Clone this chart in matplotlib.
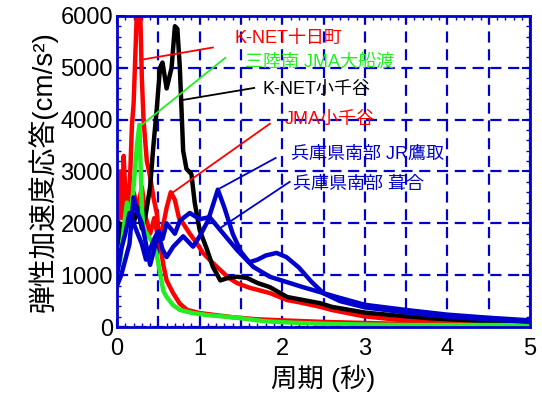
import matplotlib
matplotlib.use("Agg")
import matplotlib.pyplot as plt
from matplotlib.ticker import MultipleLocator

plt.rcParams['font.family'] = ['Liberation Sans', 'Noto Sans CJK JP']

# ---------------------------------------------------------------
# Data (period in s, response in cm/s^2)
# ---------------------------------------------------------------
t_tokamachi = [0, 0.03, 0.06, 0.08, 0.1, 0.13, 0.16, 0.18, 0.2, 0.22, 0.24, 0.26, 0.28, 0.3, 0.32,
               0.36, 0.4, 0.44, 0.48, 0.52, 0.56, 0.6, 0.68, 0.76, 0.85, 1.0, 1.2, 1.4, 1.7, 2.0,
               2.5, 3.0, 3.5, 4.0, 4.5, 5.0]
v_tokamachi = [1600, 2800, 2100, 3300, 2600, 2200, 3000, 3900, 4300, 5200, 6100, 6100, 6100, 4800, 4000,
               3200, 2900, 2500, 2200, 1600, 1200, 900, 650, 450, 330, 270, 230, 190, 150, 130,
               100, 80, 60, 50, 40, 30]

t_jma_ojiya = [0, 0.04, 0.08, 0.12, 0.16, 0.2, 0.25, 0.3, 0.35, 0.4, 0.45, 0.5, 0.55, 0.6, 0.65, 0.7,
               0.75, 0.8, 0.88, 0.95, 1.04, 1.15, 1.25, 1.35, 1.45, 1.6, 1.85, 2.06, 2.2, 2.46, 2.6,
               2.98, 3.43, 4.2, 5.0]
v_jma_ojiya = [2100, 3000, 2400, 2700, 2200, 2600, 2300, 2700, 2100, 1800, 2100, 1700, 1900, 2300, 2600, 2450,
               2100, 2000, 1800, 1650, 1430, 1250, 1100, 950, 850, 760, 656, 520, 480, 390, 330,
               210, 135, 80, 40]

t_knet_ojiya = [0, 0.03, 0.06, 0.1, 0.15, 0.2, 0.25, 0.3, 0.35, 0.4, 0.44, 0.48, 0.52, 0.55, 0.6, 0.66,
                0.7, 0.73, 0.76, 0.8, 0.84, 0.9, 0.94, 1.0, 1.09, 1.16, 1.25, 1.35, 1.45, 1.57, 1.7,
                1.85, 2.06, 2.46, 2.6, 3.0, 3.4, 3.8, 4.4, 5.0]
v_knet_ojiya = [1500, 2000, 1700, 1900, 2300, 2000, 2300, 1900, 2200, 2700, 3500, 4200, 5000, 5100, 4600, 5000,
                5800, 5750, 5000, 3400, 3050, 2950, 2400, 1870, 1490, 1160, 900, 950, 970, 950, 850,
                770, 580, 460, 390, 280, 220, 170, 120, 80]

t_ofunato = [0, 0.04, 0.08, 0.12, 0.16, 0.2, 0.24, 0.27, 0.3, 0.32, 0.36, 0.4, 0.44, 0.48, 0.52, 0.56,
             0.6, 0.68, 0.76, 0.92, 1.1, 1.4, 1.8, 2.2, 2.6, 3.0, 3.5, 4.0, 4.5, 5.0]
v_ofunato = [1100, 1300, 1900, 2400, 2100, 2700, 3500, 3900, 2300, 1900, 1800, 1700, 1600, 1400, 1050, 700,
             580, 420, 330, 270, 230, 190, 110, 80, 60, 50, 40, 40, 40, 40]

t_takatori = [0, 0.05, 0.1, 0.15, 0.2, 0.25, 0.3, 0.35, 0.4, 0.45, 0.5, 0.55, 0.6, 0.68, 0.8, 0.92,
              1.0, 1.1, 1.22, 1.3, 1.4, 1.5, 1.6, 1.7, 1.8, 1.93, 2.05, 2.2, 2.35, 2.5, 2.7, 3.0,
              3.5, 4.0, 4.5, 5.0]
v_takatori = [800, 1000, 1300, 1600, 2500, 2200, 2000, 1600, 1200, 1500, 1800, 1500, 1350, 1550, 1750, 1550,
              1750, 2050, 2650, 2300, 1800, 1450, 1250, 1300, 1380, 1430, 1350, 1150, 880, 650, 500, 380,
              280, 200, 150, 100]

t_fukiai = [0, 0.05, 0.1, 0.15, 0.2, 0.25, 0.3, 0.35, 0.4, 0.45, 0.5, 0.55, 0.6, 0.7, 0.76, 0.88,
            1.0, 1.12, 1.25, 1.45, 1.65, 1.85, 2.25, 2.66, 3.0, 3.5, 4.0, 4.5, 5.0]
v_fukiai = [1000, 1500, 1800, 2200, 2000, 1800, 1600, 1300, 1500, 1700, 1850, 1700, 2000, 1800, 2050, 2200,
            2080, 2120, 1870, 1490, 1160, 970, 770, 580, 430, 330, 240, 180, 130]

# Label text, leader line start/end and text anchor (data coords)
labels = ['K-NET十日町', '三陸南 JMA大船渡', 'K-NET小千谷', 'JMA小千谷', '兵庫県南部 JR鷹取', '兵庫県南部 葺合']
label_colors = ['#ff0000', '#22ee22', 'black', '#ff0000', '#0000cc', '#0000cc']
leader_from = [(0.28, 5150), (0.27, 3860), (0.80, 4380), (0.67, 2590), (1.25, 2680), (1.25, 1910)]
leader_to = [(1.16, 5390), (1.31, 5190), (1.66, 4610), (1.85, 3920), (1.92, 3260), (2.09, 2800)]
label_pos = [(1.42, 5560), (1.55, 5100), (1.76, 4575), (2.03, 4000), (2.11, 3330), (2.13, 2740)]

BLUE = '#0000cc'

fig = plt.figure(figsize=(5.42, 3.96), dpi=100)
ax = fig.add_axes([0.216, 0.174, 0.762, 0.786])

lw = 3.2
ax.plot(t_tokamachi, v_tokamachi, color='#ff0000', lw=lw)
ax.plot(t_jma_ojiya, v_jma_ojiya, color='#ff0000', lw=lw)
ax.plot(t_knet_ojiya, v_knet_ojiya, color='black', lw=lw)
ax.plot(t_ofunato, v_ofunato, color='#22ee22', lw=lw)
ax.plot(t_fukiai, v_fukiai, color=BLUE, lw=lw)
ax.plot(t_takatori, v_takatori, color=BLUE, lw=lw)

for txt, c, p0, p1, pt in zip(labels, label_colors, leader_from, leader_to, label_pos):
    ax.plot([p0[0], p1[0]], [p0[1], p1[1]], color=c, lw=1.3)
    ax.text(pt[0], pt[1], txt, color=c, fontsize=13, ha='left', va='center')

ax.set_xlim(0, 5)
ax.set_ylim(0, 6000)
ax.set_xticks([0, 0.5, 1, 1.5, 2, 2.5, 3, 3.5, 4, 4.5, 5])
ax.set_xticklabels(['0', '', '1', '', '2', '', '3', '', '4', '', '5'])
ax.set_yticks([0, 1000, 2000, 3000, 4000, 5000, 6000])
ax.xaxis.set_minor_locator(MultipleLocator(0.1))
ax.yaxis.set_minor_locator(MultipleLocator(200))
ax.grid(True, which='major', color=BLUE, ls=(0, (5, 3)), lw=1.6)
ax.tick_params(which='both', direction='in', color=BLUE, top=True, right=True, labelsize=17)
ax.tick_params(axis='y', pad=3)
ax.tick_params(axis='x', pad=8)
ax.tick_params(which='major', length=6, width=1.5)
ax.tick_params(which='minor', length=3, width=1)
for s in ax.spines.values():
    s.set_color(BLUE)
    s.set_linewidth(2)

ax.set_xlabel('周期 (秒)', fontsize=19, labelpad=3)
ax.set_ylabel('弾性加速度応答(cm/s²)', fontsize=20, labelpad=2)

fig.savefig('out.png', dpi=100)
